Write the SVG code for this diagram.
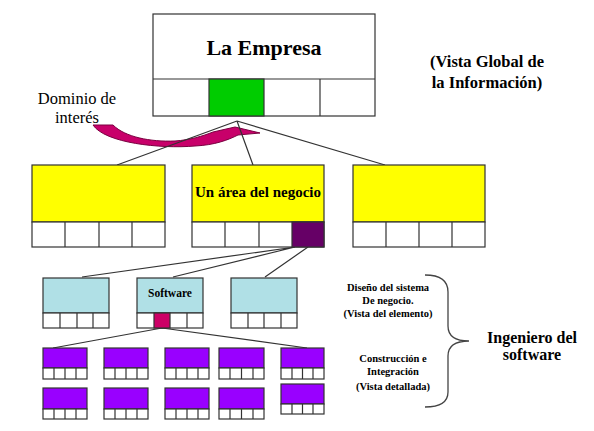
<svg xmlns="http://www.w3.org/2000/svg" width="594" height="431" viewBox="0 0 594 431">
<style>
.b{stroke:#333;stroke-width:1.2;}
.w{fill:#fff;}
.y{fill:#ffff00;}
.lb{fill:#b0e0e6;}
.pu{fill:#9900ff;}
.ln{stroke:#333;stroke-width:1.2;fill:none;}
.bd{font-weight:bold;}
</style>
<rect width="594" height="431" fill="#fff"/>
<g id="arrow">
<path d="M93,125 L113,125 C125,137 150,142 175,141 C190,140 203,136 213,132 L235,127 L260,133 L238,135 C228,140 215,145 195,146 C160,149 105,143 93,125 Z" fill="#c8006a" stroke="#7a0040" stroke-width="1"/>
</g>
<g id="connectors">
<path class="ln" d="M237,121 L117,165 M237,121 L253,165 M237,121 L385,165"/>
<path class="ln" d="M295,247 L82,277 M295,247 L173,277 M308,247 L265,277"/>
<path class="ln" d="M162,328 L53,348 M162,328 L307,348"/>
</g>
<g fill="#000" font-family="'Liberation Serif', 'Times New Roman', serif">
<g id="empresa">
<rect class="b w" x="153" y="14" width="222" height="102"/>
<line class="b" x1="153" y1="79" x2="375" y2="79"/>
<rect class="b" x="209" y="79" width="55" height="37" fill="#00cc00"/>
<line class="b" x1="320" y1="79" x2="320" y2="116"/>
<text class="bd" x="264" y="55" font-size="22" text-anchor="middle">La Empresa</text>
</g>
<g id="vista-global">
<text class="bd" x="487" y="67" font-size="16.5" text-anchor="middle">(Vista Global de</text>
<text class="bd" x="487" y="88" font-size="16.5" text-anchor="middle">la Información)</text>
</g>
<g id="dominio">
<text x="77" y="104" font-size="16.5" text-anchor="middle">Dominio de</text>
<text x="77" y="123" font-size="16.5" text-anchor="middle">interés</text>
</g>
<g id="area-left">
<rect class="b y" x="32" y="165" width="133" height="57"/>
<rect class="b w" x="32" y="222" width="133" height="25"/>
<path class="b" d="M65,222V247M99,222V247M132,222V247"/>
</g>
<g id="area-mid">
<rect class="b y" x="192" y="165" width="132" height="57"/>
<rect class="b w" x="192" y="222" width="132" height="25"/>
<path class="b" d="M225,222V247M259,222V247"/>
<rect class="b" x="292" y="222" width="32" height="25" fill="#660066"/>
<text class="bd" x="258" y="197" font-size="15" text-anchor="middle">Un área del negocio</text>
</g>
<g id="area-right">
<rect class="b y" x="353" y="165" width="132" height="57"/>
<rect class="b w" x="353" y="222" width="132" height="25"/>
<path class="b" d="M386,222V247M419,222V247M452,222V247"/>
</g>
<g id="sw-left">
<rect class="b lb" x="43" y="278" width="66" height="35"/>
<rect class="b w" x="43" y="313" width="66" height="15"/>
<path class="b" d="M60,313V328M77,313V328M93,313V328"/>
</g>
<g id="sw-mid">
<rect class="b lb" x="137" y="278" width="66" height="35"/>
<rect class="b w" x="137" y="313" width="66" height="15"/>
<path class="b" d="M187,313V328"/>
<rect class="b" x="154" y="313" width="16" height="15" fill="#cc0066"/>
<text class="bd" x="170" y="297" font-size="11.5" text-anchor="middle">Software</text>
</g>
<g id="sw-right">
<rect class="b lb" x="231" y="278" width="66" height="35"/>
<rect class="b w" x="231" y="313" width="66" height="15"/>
<path class="b" d="M248,313V328M264,313V328M281,313V328"/>
</g>
<g id="c1"><rect class="b pu" x="43" y="348" width="44" height="20"/><rect class="b w" x="43" y="368" width="44" height="11"/><path class="b" d="M54,368V379M65,368V379M76,368V379"/></g>
<g id="c2"><rect class="b pu" x="104" y="348" width="44" height="20"/><rect class="b w" x="104" y="368" width="44" height="11"/><path class="b" d="M115,368V379M126,368V379M137,368V379"/></g>
<g id="c3"><rect class="b pu" x="165" y="348" width="44" height="20"/><rect class="b w" x="165" y="368" width="44" height="11"/><path class="b" d="M176,368V379M187,368V379M198,368V379"/></g>
<g id="c4"><rect class="b pu" x="219" y="348" width="45" height="20"/><rect class="b w" x="219" y="368" width="45" height="11"/><path class="b" d="M230,368V379M241.5,368V379M253,368V379"/></g>
<g id="c5"><rect class="b pu" x="281" y="348" width="43" height="20"/><rect class="b w" x="281" y="368" width="43" height="11"/><path class="b" d="M292,368V379M302.5,368V379M313,368V379"/></g>
<g id="c6"><rect class="b pu" x="43" y="388" width="44" height="21"/><rect class="b w" x="43" y="409" width="44" height="10"/><path class="b" d="M54,409V419M65,409V419M76,409V419"/></g>
<g id="c7"><rect class="b pu" x="104" y="388" width="44" height="21"/><rect class="b w" x="104" y="409" width="44" height="10"/><path class="b" d="M115,409V419M126,409V419M137,409V419"/></g>
<g id="c8"><rect class="b pu" x="165" y="388" width="44" height="21"/><rect class="b w" x="165" y="409" width="44" height="10"/><path class="b" d="M176,409V419M187,409V419M198,409V419"/></g>
<g id="c9"><rect class="b pu" x="219" y="388" width="45" height="21"/><rect class="b w" x="219" y="409" width="45" height="10"/><path class="b" d="M230,409V419M241.5,409V419M253,409V419"/></g>
<g id="c10"><rect class="b pu" x="281" y="384" width="43" height="20"/><rect class="b w" x="281" y="404" width="43" height="10"/><path class="b" d="M292,404V414M302.5,404V414M313,404V414"/></g>
<g id="diseno">
<text class="bd" x="388" y="291" font-size="10.5" text-anchor="middle">Diseño del sistema</text>
<text class="bd" x="388" y="304" font-size="10.5" text-anchor="middle">De negocio.</text>
<text class="bd" x="388" y="317" font-size="10.5" text-anchor="middle">(Vista del elemento)</text>
</g>
<g id="construccion">
<text class="bd" x="393" y="362" font-size="10.5" text-anchor="middle">Construcción e</text>
<text class="bd" x="393" y="375" font-size="10.5" text-anchor="middle">Integración</text>
<text class="bd" x="393" y="390" font-size="10.5" text-anchor="middle">(Vista detallada)</text>
</g>
<g id="brace">
<path d="M425,275 C440,275 448,280 448,292 L448,326 C448,336 455,341 469,341 C455,341 448,346 448,356 L448,392 C448,402 440,407 425,407" fill="none" stroke="#444" stroke-width="1.3"/>
</g>
<g id="ingeniero">
<text class="bd" x="532" y="343" font-size="16" text-anchor="middle">Ingeniero del</text>
<text class="bd" x="532" y="360" font-size="16" text-anchor="middle">software</text>
</g>
</g>
</svg>
